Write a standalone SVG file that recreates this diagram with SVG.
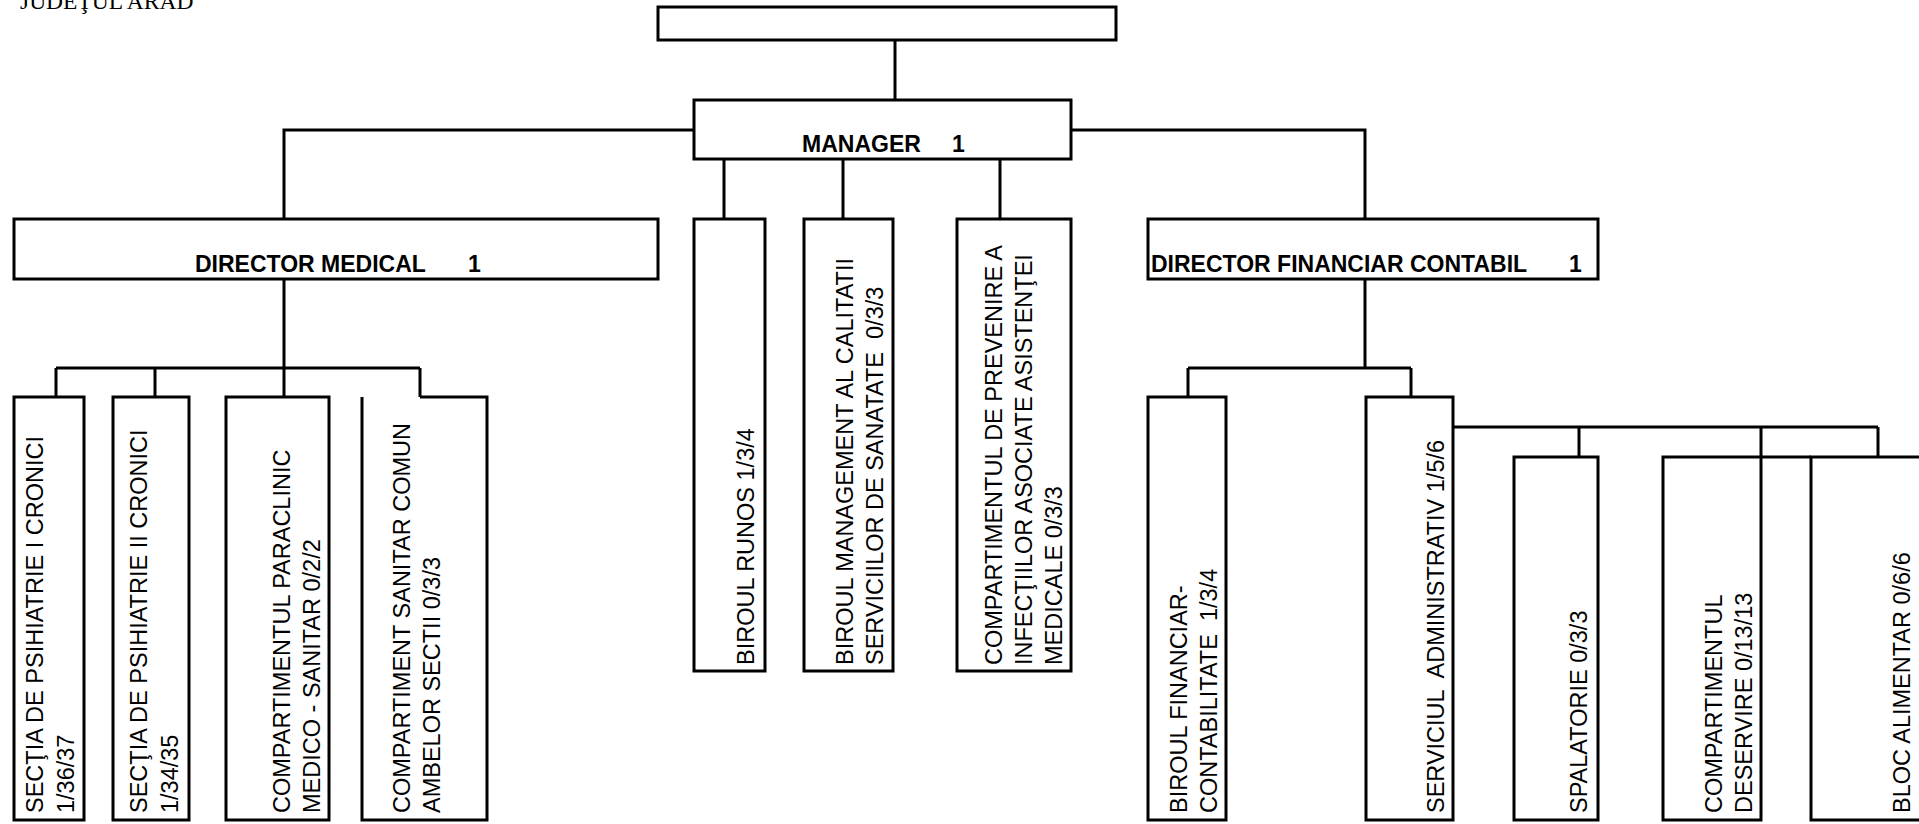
<svg xmlns="http://www.w3.org/2000/svg" width="1919" height="824" viewBox="0 0 1919 824">
<style>
.box{fill:#fff;stroke:#000;stroke-width:3}
.ln{fill:none;stroke:#000;stroke-width:3}
.t{font-family:"Liberation Sans",Arial,sans-serif;font-size:23.5px;fill:#000}
.b{font-family:"Liberation Sans",Arial,sans-serif;font-size:23px;font-weight:bold;fill:#000}
.h{font-family:"Liberation Serif","Times New Roman",serif;font-size:23.5px;fill:#000}
</style>
<rect width="1919" height="824" fill="#fff"/>
<text class="h" x="20" y="9">JUDEŢUL ARAD</text>
<g id="connectors">
<path class="ln" d="M895,40 V100"/>
<path class="ln" d="M694,130 H284 V219"/>
<path class="ln" d="M1071,130 H1365 V219"/>
<path class="ln" d="M724,159 V219 M843,159 V219 M1000,159 V219"/>
<path class="ln" d="M284,279 V397 M56,368 H420 M56,368 V397 M155,368 V397 M420,368 V397"/>
<path class="ln" d="M1365,279 V368 M1188,368 H1411 M1188,368 V397 M1411,368 V397"/>
<path class="ln" d="M1453,427 H1878 M1579,427 V457 M1761,427 V457 M1878,427 V457 M1761,457 H1811"/>
</g>
<g id="top"><rect class="box" x="658" y="7" width="458" height="33"/></g>
<g id="manager"><rect class="box" x="694" y="100" width="377" height="59"/>
<text class="b" x="802" y="152">MANAGER</text><text class="b" x="952" y="152">1</text></g>
<g id="dir-medical"><rect class="box" x="14" y="219" width="644" height="60"/>
<text class="b" x="195" y="272">DIRECTOR MEDICAL</text><text class="b" x="468" y="272">1</text></g>
<g id="dir-financiar"><rect class="box" x="1148" y="219" width="450" height="60"/>
<text class="b" x="1151" y="272">DIRECTOR FINANCIAR CONTABIL</text><text class="b" x="1569" y="272">1</text></g>
<g id="sectia1"><rect class="box" x="14" y="397" width="70" height="423"/>
<text class="t" transform="translate(43,813) rotate(-90)"><tspan x="0" y="0">SECŢIA DE PSIHIATRIE I CRONICI</tspan><tspan x="0" y="31">1/36/37</tspan></text></g>
<g id="sectia2"><rect class="box" x="113" y="397" width="76" height="423"/>
<text class="t" transform="translate(147,813) rotate(-90)"><tspan x="0" y="0">SECŢIA DE PSIHIATRIE II CRONICI</tspan><tspan x="0" y="31">1/34/35</tspan></text></g>
<g id="paraclinic"><rect class="box" x="226" y="397" width="103" height="423"/>
<text class="t" transform="translate(290,813) rotate(-90)"><tspan x="0" y="0">COMPARTIMENTUL PARACLINIC</tspan><tspan x="0" y="30">MEDICO - SANITAR 0/2/2</tspan></text></g>
<g id="sanitar-comun"><path class="ln" d="M420,397 H487 V820 H362 V397"/>
<text class="t" transform="translate(410,813) rotate(-90)"><tspan x="0" y="0">COMPARTIMENT SANITAR COMUN</tspan><tspan x="0" y="30">AMBELOR SECTII 0/3/3</tspan></text></g>
<g id="runos"><rect class="box" x="694" y="219" width="71" height="452"/>
<text class="t" transform="translate(754,665) rotate(-90)">BIROUL RUNOS 1/3/4</text></g>
<g id="management"><rect class="box" x="804" y="219" width="89" height="452"/>
<text class="t" xml:space="preserve" transform="translate(853,665) rotate(-90)"><tspan x="0" y="0">BIROUL MANAGEMENT AL CALITATII</tspan><tspan x="0" y="30">SERVICIILOR DE SANATATE  0/3/3</tspan></text></g>
<g id="prevenire"><rect class="box" x="957" y="219" width="114" height="452"/>
<text class="t" transform="translate(1002,665) rotate(-90)"><tspan x="0" y="0">COMPARTIMENTUL DE PREVENIRE A</tspan><tspan x="0" y="30">INFECŢIILOR ASOCIATE ASISTENŢEI</tspan><tspan x="0" y="60">MEDICALE 0/3/3</tspan></text></g>
<g id="financiar"><rect class="box" x="1148" y="397" width="78" height="423"/>
<text class="t" xml:space="preserve" transform="translate(1187,813) rotate(-90)"><tspan x="0" y="0">BIROUL FINANCIAR-</tspan><tspan x="0" y="30">CONTABILITATE  1/3/4</tspan></text></g>
<g id="administrativ"><rect class="box" x="1366" y="397" width="87" height="423"/>
<text class="t" xml:space="preserve" transform="translate(1444,813) rotate(-90)">SERVICIUL  ADMINISTRATIV 1/5/6</text></g>
<g id="spalatorie"><rect class="box" x="1514" y="457" width="84" height="363"/>
<text class="t" transform="translate(1587,813) rotate(-90)">SPALATORIE 0/3/3</text></g>
<g id="deservire"><rect class="box" x="1663" y="457" width="98" height="363"/>
<text class="t" transform="translate(1722,813) rotate(-90)"><tspan x="0" y="0">COMPARTIMENTUL</tspan><tspan x="0" y="30">DESERVIRE 0/13/13</tspan></text></g>
<g id="bloc"><rect class="box" x="1811" y="457" width="120" height="363"/>
<text class="t" transform="translate(1910,813) rotate(-90)">BLOC ALIMENTAR 0/6/6</text></g>
</svg>
